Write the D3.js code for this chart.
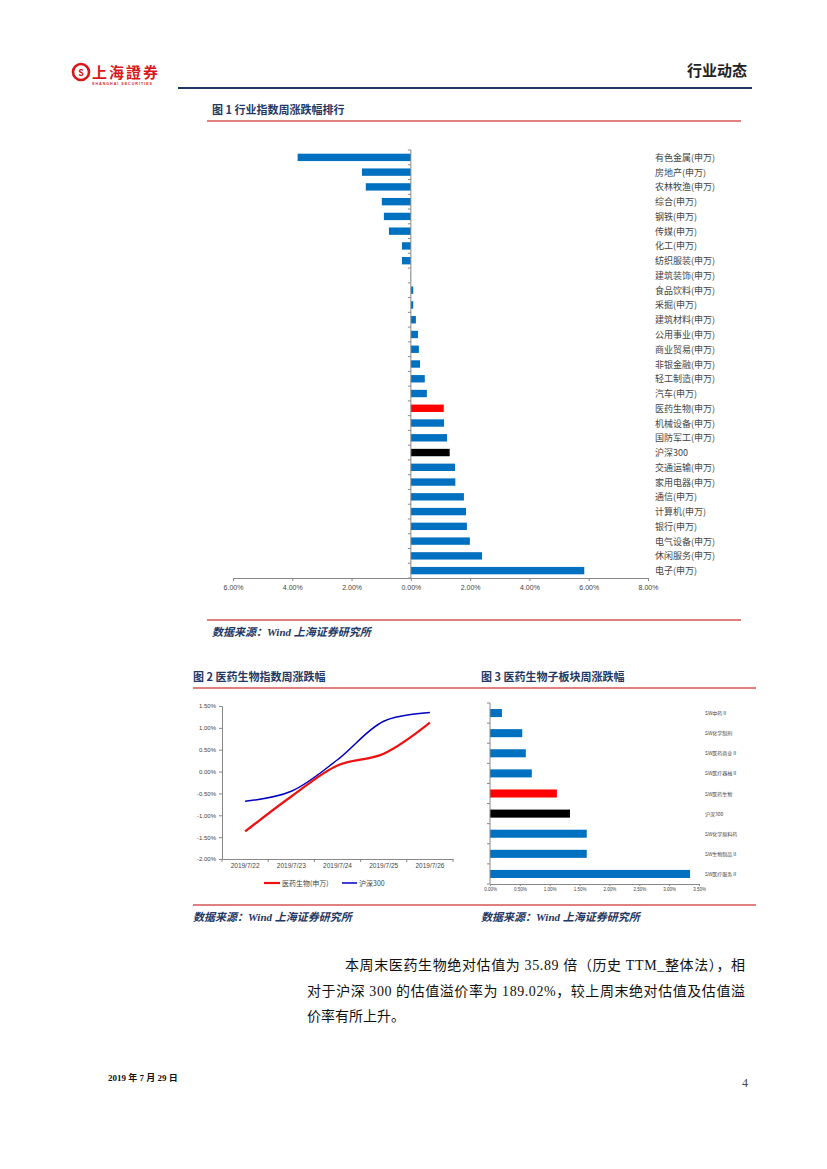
<!DOCTYPE html>
<html><head><meta charset="utf-8">
<script src="https://cdn.jsdelivr.net/npm/d3@7"></script>
<style>
html,body{margin:0;padding:0;background:#fff;}
svg{display:block;}
</style></head>
<body>
<svg id="page" width="827" height="1169"></svg>
<script>
// ---------- DATA ----------
const industries = ["有色金属(申万)","房地产(申万)","农林牧渔(申万)","综合(申万)","钢铁(申万)","传媒(申万)","化工(申万)","纺织服装(申万)","建筑装饰(申万)","食品饮料(申万)","采掘(申万)","建筑材料(申万)","公用事业(申万)","商业贸易(申万)","非银金融(申万)","轻工制造(申万)","汽车(申万)","医药生物(申万)","机械设备(申万)","国防军工(申万)","沪深300","交通运输(申万)","家用电器(申万)","通信(申万)","计算机(申万)","银行(申万)","电气设备(申万)","休闲服务(申万)","电子(申万)"];
const industryChange = [-3.82,-1.65,-1.52,-0.98,-0.91,-0.74,-0.30,-0.30,-0.01,0.08,0.08,0.17,0.24,0.27,0.31,0.47,0.54,1.11,1.12,1.22,1.31,1.49,1.50,1.79,1.86,1.89,1.99,2.40,5.85];
const fig1Ticks = [-6,-4,-2,0,2,4,6,8];
const fig1TickLabels = ["6.00%","4.00%","2.00%","0.00%","2.00%","4.00%","6.00%","8.00%"];

const dates = ["2019/7/22","2019/7/23","2019/7/24","2019/7/25","2019/7/26"];
const pharmaSeries = [-1.37,-0.57,0.14,0.41,1.12];
const hs300Series = [-0.68,-0.45,0.27,1.15,1.35];
const fig2YTicks = [1.5,1.0,0.5,0.0,-0.5,-1.0,-1.5,-2.0];
const seriesNames = ["医药生物(申万)","沪深300"];

const subSectors = ["SW中药Ⅱ","SW化学制剂","SW医药商业Ⅱ","SW医疗器械Ⅱ","SW医药生物","沪深300","SW化学原料药","SW生物制品Ⅱ","SW医疗服务Ⅱ"];
const subChange = [0.20,0.54,0.60,0.70,1.12,1.34,1.62,1.62,3.35];
const fig3Ticks = [0,0.5,1.0,1.5,2.0,2.5,3.0,3.5];

// ---------- STYLE ----------
const BLUE="#0070c0", RED="#ff0000", BLACK="#000000", NAVY="#1f3864", LINERED="#c0504d";
const CJK = "'Noto Sans CJK SC', sans-serif";
const SERIF = "'Liberation Serif', 'Noto Sans CJK SC', serif";
const ARIAL = "'Liberation Sans', Arial, sans-serif";
function barColor(name){ return name.indexOf("医药生物")>=0 ? RED : (name==="沪深300" ? BLACK : BLUE); }

const svg = d3.select("#page");

// ---------- HEADER ----------
const logo = svg.append("g");
logo.append("circle").attr("cx",81).attr("cy",72).attr("r",8).attr("fill","none").attr("stroke","#d9161c").attr("stroke-width",2.6);
logo.append("text").attr("x",81).attr("y",76).attr("text-anchor","middle").attr("font-size",9).attr("font-weight",700).attr("fill","#d9161c").attr("font-family",CJK).text("S");
logo.append("text").attr("x",92).attr("y",78).attr("font-size",15).attr("font-weight",700).attr("fill","#d9161c").attr("font-family",CJK).attr("textLength",66).text("上海證券");
logo.append("text").attr("x",92).attr("y",85).attr("font-size",3.6).attr("font-weight",700).attr("fill","#d9161c").attr("font-family",ARIAL).attr("textLength",60).text("SHANGHAI SECURITIES");
svg.append("text").attr("x",747).attr("y",76).attr("text-anchor","end").attr("font-size",15).attr("font-weight",700).attr("fill","#222").attr("font-family",CJK).text("行业动态");
svg.append("line").attr("x1",178).attr("x2",752).attr("y1",88).attr("y2",88).attr("stroke","#1f3864").attr("stroke-width",2.2);

function hline(x1,x2,y,color,w){ svg.append("line").attr("x1",x1).attr("x2",x2).attr("y1",y).attr("y2",y).attr("stroke",color).attr("stroke-width",w||1); }
function title(x,y,t){ svg.append("text").attr("x",x).attr("y",y).attr("font-size",11).attr("font-weight",700).attr("fill",NAVY).attr("font-family",CJK).text(t); }
function source(x,y){ svg.append("text").attr("x",x).attr("y",y).attr("font-size",11).attr("font-weight",700).attr("font-style","italic").attr("fill",NAVY).attr("font-family",SERIF).text("数据来源：Wind 上海证券研究所"); }

// ---------- FIGURE 1 ----------
title(212,114,"图 1 行业指数周涨跌幅排行");
hline(207,741,121,"#c00000",1);
hline(207,741,620,"#c00000",1);
source(212,636);

const x1 = d3.scaleLinear().domain([-6,8]).range([233,648]);
const y1 = d3.scaleBand().domain(industries).range([150,578]).paddingInner(0.5).paddingOuter(0.25);
const g1 = svg.append("g");
g1.selectAll("rect").data(industries).join("rect")
  .attr("x",(d,i)=>x1(Math.min(0,industryChange[i])))
  .attr("width",(d,i)=>Math.abs(x1(industryChange[i])-x1(0)))
  .attr("y",d=>y1(d)).attr("height",y1.bandwidth())
  .attr("fill",d=>barColor(d));
// vertical category axis at zero
const yAxis1 = g1.append("g").attr("transform",`translate(${x1(0)},0)`);
yAxis1.append("line").attr("y1",150).attr("y2",578).attr("stroke","#888").attr("stroke-width",1);
const step1 = y1.step();
d3.range(industries.length+1).forEach(i=>{
  const yy = 150 + i*(428/industries.length);
  yAxis1.append("line").attr("x1",-3).attr("x2",0).attr("y1",yy).attr("y2",yy).attr("stroke","#888");
});
// labels on right
g1.selectAll("text.lab").data(industries).join("text").attr("class","lab")
  .attr("x",655).attr("y",d=>y1(d)+y1.bandwidth()/2+3.5)
  .attr("font-size",9).attr("fill","#444").attr("font-family",CJK).text(d=>d);
// bottom axis
const xAxis1 = d3.axisBottom(x1).tickValues(fig1Ticks).tickSize(3).tickFormat((d,i)=>fig1TickLabels[i]);
const xa1 = g1.append("g").attr("transform","translate(0,578)").call(xAxis1);
xa1.select(".domain").attr("stroke","#888");
xa1.selectAll(".tick line").attr("stroke","#888");
xa1.selectAll(".tick text").attr("font-size",7).attr("fill","#444").attr("font-family",ARIAL).attr("dy","0.9em");

// ---------- FIGURE 2 / 3 frame ----------
title(193,681,"图 2 医药生物指数周涨跌幅");
title(481,681,"图 3 医药生物子板块周涨跌幅");
hline(193,756,688,"#c00000",1);
hline(193,756,905,"#c00000",1);
source(193,921);
source(481,921);

// ---------- FIGURE 2 ----------
const x2 = d3.scaleBand().domain(dates).range([222,453]);
const y2 = d3.scaleLinear().domain([-2,1.5]).range([859,706]);
const g2 = svg.append("g");
const ya2 = g2.append("g").attr("transform","translate(222,0)").call(d3.axisLeft(y2).tickValues(fig2YTicks).tickSize(3).tickFormat(d=>d.toFixed(2)+"%"));
ya2.select(".domain").attr("stroke","#888");
ya2.selectAll(".tick line").attr("stroke","#888");
ya2.selectAll(".tick text").attr("font-size",6).attr("fill","#444").attr("font-family",ARIAL);
const xa2 = g2.append("g").attr("transform","translate(0,859)").call(d3.axisBottom(x2).tickSize(0).tickPadding(4));
xa2.select(".domain").attr("stroke","#888");
xa2.selectAll(".tick text").attr("font-size",6.5).attr("fill","#444").attr("font-family",ARIAL);
d3.range(dates.length+1).forEach(i=>{
  const xx = 222 + i*x2.step();
  g2.append("line").attr("x1",xx).attr("x2",xx).attr("y1",859).attr("y2",862).attr("stroke","#888");
});
const line2 = d3.line().x((d,i)=>x2(dates[i])+x2.bandwidth()/2).y(d=>y2(d)).curve(d3.curveCatmullRom.alpha(0.5));
g2.append("path").attr("d",line2(hs300Series)).attr("fill","none").attr("stroke","#0000c0").attr("stroke-width",1.5);
g2.append("path").attr("d",line2(pharmaSeries)).attr("fill","none").attr("stroke","#ee1111").attr("stroke-width",2.2);
// legend
const lg = g2.append("g");
lg.append("line").attr("x1",264).attr("x2",280).attr("y1",883).attr("y2",883).attr("stroke","#ee1111").attr("stroke-width",2.2);
lg.append("text").attr("x",282).attr("y",886).attr("font-size",7).attr("fill","#444").attr("font-family",CJK).text(seriesNames[0]);
lg.append("line").attr("x1",342).attr("x2",357).attr("y1",883).attr("y2",883).attr("stroke","#0000c0").attr("stroke-width",1.5);
lg.append("text").attr("x",359).attr("y",886).attr("font-size",7).attr("fill","#444").attr("font-family",CJK).text(seriesNames[1]);

// ---------- FIGURE 3 ----------
const x3 = d3.scaleLinear().domain([0,3.5]).range([490,699]);
const y3 = d3.scaleBand().domain(subSectors).range([703,884]).paddingInner(0.6).paddingOuter(0.3);
const g3 = svg.append("g");
g3.selectAll("rect").data(subSectors).join("rect")
  .attr("x",x3(0)).attr("y",d=>y3(d))
  .attr("width",(d,i)=>x3(subChange[i])-x3(0)).attr("height",y3.bandwidth())
  .attr("fill",d=>barColor(d));
g3.append("line").attr("x1",490).attr("x2",490).attr("y1",703).attr("y2",884).attr("stroke","#888");
d3.range(subSectors.length+1).forEach(i=>{
  const yy = 703 + i*(181/subSectors.length);
  g3.append("line").attr("x1",487).attr("x2",490).attr("y1",yy).attr("y2",yy).attr("stroke","#888");
});
const xa3 = g3.append("g").attr("transform","translate(0,884)").call(d3.axisBottom(x3).tickValues(fig3Ticks).tickSize(2).tickPadding(2).tickFormat(d=>d.toFixed(2)+"%"));
xa3.select(".domain").attr("stroke","#888");
xa3.selectAll(".tick line").attr("stroke","#888");
xa3.selectAll(".tick text").attr("font-size",4.5).attr("fill","#444").attr("font-family",ARIAL);
g3.selectAll("text.lab").data(subSectors).join("text").attr("class","lab")
  .attr("x",705).attr("y",d=>y3(d)+y3.bandwidth()/2+2)
  .attr("font-size",5).attr("fill","#444").attr("font-family",CJK).text(d=>d);

// ---------- BODY TEXT ----------
const para = [
  {x:345, w:400, t:"本周末医药生物绝对估值为 35.89 倍（历史 TTM_整体法），相"},
  {x:307, w:438, t:"对于沪深 300 的估值溢价率为 189.02%，较上周末绝对估值及估值溢"},
  {x:307, w:0,   t:"价率有所上升。"}
];
para.forEach((p,i)=>{
  const t = svg.append("text").attr("x",p.x).attr("y",970+i*25.5).attr("font-size",14).attr("fill","#111").attr("font-family",SERIF).text(p.t);
  if(p.w) t.attr("textLength",p.w).attr("lengthAdjust","spacing");
});

// ---------- FOOTER ----------
svg.append("text").attr("x",108).attr("y",1081).attr("font-size",9).attr("font-weight",700).attr("fill","#111").attr("font-family",SERIF).text("2019 年 7 月 29 日");
svg.append("text").attr("x",748).attr("y",1087).attr("text-anchor","end").attr("font-size",12).attr("fill","#444").attr("font-family",SERIF).text("4");
</script>
</body></html>
